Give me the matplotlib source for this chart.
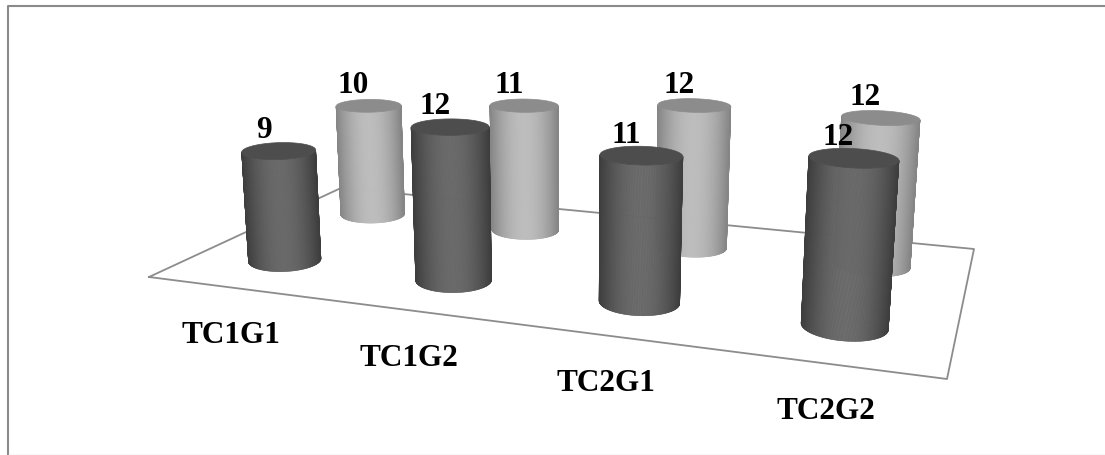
import numpy as np
import matplotlib
matplotlib.use('Agg')
import matplotlib.pyplot as plt
from matplotlib.collections import PolyCollection

plt.rcParams['font.family'] = ['Liberation Serif', 'DejaVu Serif']

categories = ['TC1G1', 'TC1G2', 'TC2G1', 'TC2G2']
front_values = [9, 12, 11, 12]
back_values = [10, 11, 12, 12]

# floor outline in pixels: front-left, front-right, back-right, back-left
floor_px = [(149, 277), (947, 379), (974, 249), (341, 188)]
vanish = np.array([569.0, 5400.0, 1.0])  # where the vertical edges converge
z_scale = -0.002307
radius = 0.2
shear_left = 0.12  # flattens the tilt of the floor circles on the left side


def floor_homography(corners):
    src = [(0, 0), (4, 0), (4, 2), (0, 2)]
    A, b = [], []
    for (x, y), (u, v) in zip(src, corners):
        A.append([x, y, 1, 0, 0, 0, -u * x, -u * y])
        A.append([0, 0, 0, x, y, 1, -v * x, -v * y])
        b += [u, v]
    h = np.linalg.solve(np.array(A, float), np.array(b, float))
    H = np.append(h, 1).reshape(3, 3)
    return H / (H[2] @ np.array([0.5, 0.5, 1]))


H = floor_homography(floor_px)


def project(x, y, z=0.0):
    x = np.atleast_1d(np.asarray(x, float))
    y = np.full_like(x, y) if np.ndim(y) == 0 else np.asarray(y, float)
    q = H @ np.stack([x, y, np.ones_like(x)]) + np.outer(vanish, np.full_like(x, z_scale * z))
    return q[0] / q[2], q[1] / q[2]


def draw_cylinder(ax, cx, cy, value, edge_grey, mid_grey, top_grey, z):
    # start at the back so the front arc is one unbroken run
    theta = np.linspace(np.pi / 2, 2.5 * np.pi, 361)
    shear = shear_left * (1 - cx / 4)
    xs = cx + radius * (np.cos(theta) - shear * np.sin(theta))
    ys = cy + radius * np.sin(theta)
    bx, by = project(xs, ys)
    tx, ty = project(xs, ys, value)

    left = min(np.argmin(bx), np.argmin(tx))
    right = max(np.argmax(bx), np.argmax(tx))
    quads, greys = [], []
    for i in range(left, right):
        quads.append([(bx[i], by[i]), (bx[i + 1], by[i + 1]), (tx[i + 1], ty[i + 1]), (tx[i], ty[i])])
        u = (bx[i] + tx[i] - bx.min() - tx.min()) / (bx.max() + tx.max() - bx.min() - tx.min()) * 2 - 1
        g = edge_grey + (mid_grey - edge_grey) * np.clip(1 - u ** 2, 0, 1)
        greys.append((g, g, g))
    ax.add_collection(PolyCollection(quads, facecolors=greys, edgecolors=greys, linewidths=0.4, zorder=z))

    ax.fill(tx, ty, color=(top_grey, top_grey, top_grey), lw=0.5, zorder=z + 0.1)


fig = plt.figure(figsize=(11.05, 4.55), dpi=100)
ax = fig.add_axes([0, 0, 1, 1])
ax.set_xlim(0, 1105)
ax.set_ylim(455, 0)
ax.axis('off')

# outer frame, no line on the right in the source
ax.plot([8, 8, 1105], [454, 6, 6], color='#8a8a8a', lw=1.5, zorder=1)
ax.plot([8, 1105], [454.5, 454.5], color='#dcdcdc', lw=1.0, zorder=1)

fx, fy = zip(*(floor_px + floor_px[:1]))
ax.plot(fx, fy, color='#8c8c8c', lw=1.3, zorder=1)

for i, v in enumerate(back_values):
    draw_cylinder(ax, i + 0.5, 1.5, v, 0.52, 0.74, 0.55, 2)
for i, v in enumerate(front_values):
    draw_cylinder(ax, i + 0.5, 0.5, v, 0.24, 0.41, 0.30, 3)

for row, values in ((1.5, back_values), (0.5, front_values)):
    for i, v in enumerate(values):
        tx, ty = project(i + 0.5, row, v)
        ax.annotate(str(v), (tx[0], ty[0]), xytext=(-11, 14.5), textcoords='offset points',
                    ha='center', va='center', fontsize=22.5, fontweight='bold', color='black', zorder=5)

for i, name in enumerate(categories):
    bx, by = project(i + 0.5, 0.0)
    ax.annotate(name, (bx[0], by[0]), xytext=(-1, -34.5), textcoords='offset points',
                ha='center', va='center', fontsize=22.5, fontweight='bold', color='black', zorder=5)

fig.savefig('out.png', dpi=100)
